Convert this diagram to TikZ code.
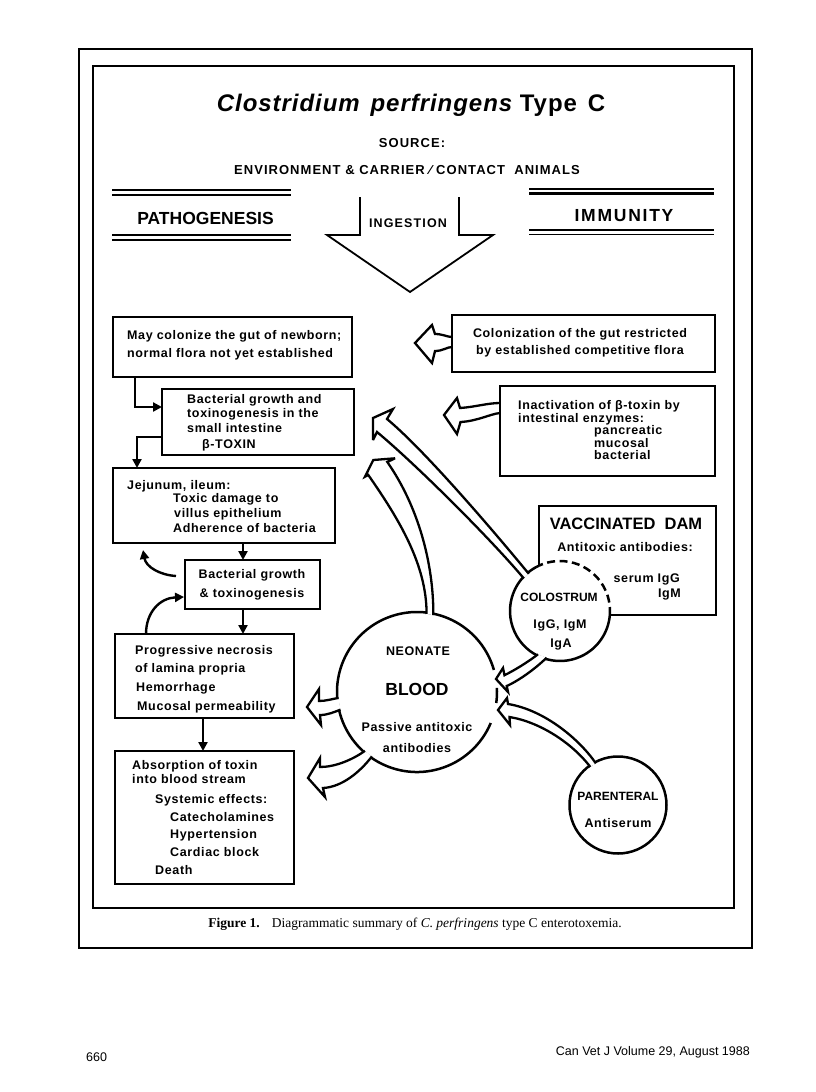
\documentclass[tikz,border=0pt]{standalone}
\usepackage{fontspec}
\setmainfont{Liberation Sans}
\newfontfamily\bodyf[LetterSpace=5]{Liberation Sans}
\newfontfamily\titlef[LetterSpace=4]{Liberation Sans}
\newfontfamily\srcf[LetterSpace=8]{Liberation Sans}
\newfontfamily\immf[LetterSpace=10]{Liberation Sans}
\newfontfamily\ingf[LetterSpace=9]{Liberation Sans}
\newfontfamily\plainf{Liberation Sans}
\newfontfamily\capf{Liberation Serif}
\usetikzlibrary{arrows.meta}
\newcommand\bodyfont{\bodyf\bfseries\fontsize{12.5}{15}\selectfont}
\newcommand\bigfont{\plainf\bfseries\fontsize{17.5}{20}\selectfont}
\newcommand\circfont{\plainf\bfseries\fontsize{12}{14}\selectfont}
\begin{document}
\begin{tikzpicture}[x=1pt,y=-1pt,
  bx/.style={draw, line width=2.5pt, inner sep=0pt, outer sep=0pt, anchor=north west},
  lt/.style={inner sep=0pt, anchor=base west, font=\bodyfont},
  ct/.style={inner sep=0pt, anchor=base, font=\bodyfont},
  conn/.style={line width=2.4pt, -{Triangle[length=9pt,width=9pt]}},
  hollow/.style={line width=2.3pt, fill=white, line join=miter, miter limit=4},
  rim/.style={line width=2.5pt}]
\useasboundingbox (0,0) rectangle (816,1092);
\fill[white] (0,0) rectangle (816,1092);

% frames
\draw[line width=1.3pt] (79,49) rectangle (752,948);
\draw[line width=1.6pt] (93,66) rectangle (734,908);

% title and source
\node[inner sep=0pt, anchor=base] (title) at (411,111)
  {\titlef\bfseries\fontsize{24}{28}\selectfont\itshape Clostridium\hspace{0.45em}perfringens\upshape\ Type\hspace{0.45em}C};
\node[inner sep=0pt, anchor=base] (source) at (412,147.7) {\srcf\bfseries\fontsize{13}{15}\selectfont SOURCE:};
\node[inner sep=0pt, anchor=base] (env) at (407,174.7)
  {\srcf\bfseries\fontsize{13}{15}\selectfont ENVIRONMENT \& CARRIER ⁄ CONTACT\ \ ANIMALS};

% header bars
\draw[line width=1.3pt] (112,190) -- (291,190);
\draw[line width=2.6pt] (112,195) -- (291,195);
\draw[line width=2.6pt] (112,235) -- (291,235);
\draw[line width=1.3pt] (112,240) -- (291,240);
\draw[line width=1.3pt] (529,189) -- (714,189);
\draw[line width=2.6pt] (529,193.5) -- (714,193.5);
\draw[line width=2.6pt] (529,230) -- (714,230);
\draw[line width=1.3pt] (529,234.5) -- (714,234.5);
\node[inner sep=0pt, anchor=base] (path) at (205.5,224.3) {\bigfont PATHOGENESIS};
\node[inner sep=0pt, anchor=base] (imm) at (624,221.3) {\immf\bfseries\fontsize{17.5}{20}\selectfont IMMUNITY};

% ingestion arrow
\draw[line width=1.8pt, line join=miter] (360,197) -- (360,235) -- (327,235) -- (410,292) -- (493,235) -- (459,235) -- (459,197);
\node[inner sep=0pt, anchor=base] (ing) at (408,227.5) {\ingf\bfseries\fontsize{12.5}{15}\selectfont INGESTION};

% left boxes
\node[bx, minimum width=239pt, minimum height=60pt] (A) at (113,317) {};
\node[bx, minimum width=192pt, minimum height=66pt] (B) at (162,389) {};
\node[bx, minimum width=222pt, minimum height=75pt] (C) at (113,468) {};
\node[bx, minimum width=135pt, minimum height=49pt] (D) at (185,560) {};
\node[bx, minimum width=179pt, minimum height=84pt] (E) at (115,634) {};
\node[bx, minimum width=179pt, minimum height=133pt] (F) at (115,751) {};
\node[bx, minimum width=177pt, minimum height=109pt] (V) at (539,506) {};

% connectors on the left
\draw[conn] ([xshift=22pt]A.south west) |- ([yshift=15pt]B.west);
\draw[conn] ([yshift=-15pt]B.west) -| ([xshift=24pt]C.north west);
\draw[conn] ([xshift=130pt]C.south west) -- ([xshift=58pt]D.north west);
\draw[conn] ([xshift=58pt]D.south west) -- ([xshift=128pt]E.north west);
\draw[conn] ([xshift=88pt]E.south west) -- ([xshift=88pt]F.north west);
\coordinate (dl1) at ([xshift=-9pt, yshift=-16pt]D.north west);
\coordinate (cl1) at (143,550);
\draw[conn] (dl1) .. controls (160,575) and (146,567) .. (cl1);
\coordinate (el1) at ([xshift=31pt]E.north west);
\coordinate (dl2) at ([xshift=-1pt, yshift=-37pt]D.north west);
\draw[conn] (el1) .. controls (146,612) and (160,598) .. (dl2);

% circles
\node[circle, fill=white, minimum size=160pt, inner sep=0pt, outer sep=0pt] (neo) at (417,692) {};
\draw[rim] ([shift={(16:80pt)}]neo.center) arc[start angle=16, end angle=337.2, radius=80pt];
\draw[rim] ([shift={(-7.9:80pt)}]neo.center) arc[start angle=-7.9, end angle=2.9, radius=80pt];
\node[circle, fill=white, minimum size=100pt, inner sep=0pt, outer sep=0pt] (colo) at (560,611) {};
\draw[rim] ([shift={(114.8:50pt)}]colo.center) arc[start angle=114.8, end angle=355.4, radius=50pt];
\draw[rim, dash pattern=on 8pt off 4.5pt] ([shift={(-4.6:50pt)}]colo.center) arc[start angle=-4.6, end angle=114.8, radius=50pt];
\node[circle, draw, rim, fill=white, minimum size=97pt, inner sep=0pt, outer sep=0pt] (par) at (618,805) {};

% hollow arrows
\coordinate (uT1) at ([shift={(130:48.6pt)}]colo.center);
\coordinate (uT2) at ([shift={(138:48.6pt)}]colo.center);
\filldraw[hollow] (uT1) .. controls (496,534) and (425.5,451) .. (387,419) -- (393,409) -- (373,418) -- (373,440) -- (377,432) .. controls (415.5,464) and (490.8,539) .. (uT2);
\coordinate (lT1) at ([shift={(83:78.6pt)}]neo.center);
\coordinate (lT2) at ([shift={(78:78.6pt)}]neo.center);
\filldraw[hollow] (lT2) .. controls (433.6,563.7) and (418.4,506.6) .. (387.3,462) -- (395,458.3) -- (373.3,460) -- (365,476.7) -- (368.3,475) .. controls (399.3,519.5) and (426.7,565) .. (lT1);
\coordinate (eT1) at ([shift={(184.3:78.6pt)}]neo.center);
\coordinate (eT2) at ([shift={(193:78.6pt)}]neo.center);
\filldraw[hollow] (eT1) .. controls (332,699) and (326,701) .. (319,701) -- (319,689) -- (307,707) -- (321,725) -- (320,715) .. controls (328,715) and (334,712) .. (eT2);
\coordinate (fT1) at ([shift={(228.5:78.6pt)}]neo.center);
\coordinate (fT2) at ([shift={(235:78.6pt)}]neo.center);
\filldraw[hollow] (fT1) .. controls (352,760) and (335,767) .. (320,767) -- (320,758) -- (308,778) -- (325,797) -- (323,788) .. controls (342,787) and (360,772) .. (fT2);
\coordinate (cT1) at ([shift={(243:48.6pt)}]colo.center);
\coordinate (cT2) at ([shift={(254:48.6pt)}]colo.center);
\filldraw[hollow] (cT1) .. controls (528,662) and (515,670) .. (504.5,675.2) -- (503,668) -- (496,679) -- (508,692) -- (506.75,686) .. controls (520,680) and (536,668) .. (cT2);
\coordinate (pT1) at ([shift={(118:47.1pt)}]par.center);
\coordinate (pT2) at ([shift={(126:47.1pt)}]par.center);
\filldraw[hollow] (pT1) .. controls (580,740) and (545,710) .. (508,704) -- (507,698) -- (498,710) -- (510,725) -- (509.5,717) .. controls (540,722) and (572,743) .. (pT2);

% right boxes (drawn after their arrows)
\coordinate (gT1) at (452,337);
\coordinate (gT2) at (452,347);
\filldraw[hollow] (gT1) .. controls (447,337) and (443,334) .. (435,334) -- (432,325) -- (415,343) -- (432,363) -- (435,351) .. controls (443,351) and (447,347) .. (gT2);
\coordinate (hT1) at (500,403);
\coordinate (hT2) at (500,413);
\filldraw[hollow] (hT1) .. controls (488,403) and (475,407) .. (460,408) -- (457,398) -- (444,415) -- (457,434) -- (460.5,422) .. controls (478,421) and (490,414) .. (hT2);
\node[bx, minimum width=263pt, minimum height=57pt] (G) at (452,315) {};
\node[bx, minimum width=215pt, minimum height=90pt] (H) at (500,386) {};

% texts: box A
\node[lt] (a1) at (127,339.5) {May colonize the gut of newborn;};
\node[lt] (a2) at (127,357.5) {normal flora not yet established};
% box B
\node[lt] (b1) at (187,403.5) {Bacterial growth and};
\node[lt] (b2) at (187,417.5) {toxinogenesis in the};
\node[lt] (b3) at (187,432.5) {small intestine};
\node[lt] (b4) at (202,448.5) {β-TOXIN};
% box C
\node[lt] (c1) at (127,489.5) {Jejunum, ileum:};
\node[lt] (c2) at (173,502.8) {Toxic damage to};
\node[lt] (c3) at (174,517.2) {villus epithelium};
\node[lt] (c4) at (173,532.2) {Adherence of bacteria};
% box D
\node[ct] (d1) at (252,578.5) {Bacterial growth};
\node[ct] (d2) at (252,597.5) {\& toxinogenesis};
% box E
\node[lt] (e1) at (135,654.5) {Progressive necrosis};
\node[lt] (e2) at (135,672.5) {of lamina propria};
\node[lt] (e3) at (136,691.5) {Hemorrhage};
\node[lt] (e4) at (137,710.5) {Mucosal permeability};
% box F
\node[lt] (f1) at (132,769.5) {Absorption of toxin};
\node[lt] (f2) at (132,783.5) {into blood stream};
\node[lt] (f3) at (155,803.5) {Systemic effects:};
\node[lt] (f4) at (170,821.5) {Catecholamines};
\node[lt] (f5) at (170,838.5) {Hypertension};
\node[lt] (f6) at (170,856.5) {Cardiac block};
\node[lt] (f7) at (155,874.5) {Death};
% box G
\node[ct] (g1) at (580,337.5) {Colonization of the gut restricted};
\node[ct] (g2) at (580,354.5) {by established competitive flora};
% box H
\node[lt] (h1) at (518,409.5) {Inactivation of β-toxin by};
\node[lt] (h2) at (518,422) {intestinal enzymes:};
\node[lt] (h3) at (594,434.5) {pancreatic};
\node[lt] (h4) at (594,447) {mucosal};
\node[lt] (h5) at (594,459.5) {bacterial};
% vaccinated dam
\node[inner sep=0pt, anchor=base] (v1) at (626,529) {\plainf\bfseries\fontsize{16.5}{19}\selectfont VACCINATED\ \ DAM};
\node[ct] (v2) at (625,551.5) {Antitoxic antibodies:};
\node[inner sep=0pt, anchor=base east, font=\bodyfont] (v3) at (680,582.5) {serum IgG};
\node[inner sep=0pt, anchor=base east, font=\bodyfont] (v4) at (681,597.5) {IgM};
% colostrum
\node[inner sep=0pt, anchor=base, font=\circfont] (k1) at (559,601.3) {COLOSTRUM};
\node[ct] (k2) at (560,628.5) {IgG,\ IgM};
\node[ct] (k3) at (561,647.5) {IgA};
% neonate
\node[ct] (n1) at (418,655.5) {NEONATE};
\node[inner sep=0pt, anchor=base] (n2) at (417,695.3) {\bigfont BLOOD};
\node[ct] (n3) at (417,731.5) {Passive antitoxic};
\node[ct] (n4) at (417,752.5) {antibodies};
% parenteral
\node[inner sep=0pt, anchor=base, font=\circfont] (p1) at (618,800.3) {PARENTERAL};
\node[ct] (p2) at (618,827.5) {Antiserum};

% caption and footer
\node[inner sep=0pt, anchor=base] (cap) at (415,927.5)
  {\capf\fontsize{13.5}{16}\selectfont\textbf{Figure 1.}\hspace{0.9em}Diagrammatic summary of \textit{C. perfringens} type C enterotoxemia.};
\node[inner sep=0pt, anchor=base west] (pg) at (86,1061) {\plainf\fontsize{12.5}{15}\selectfont 660};
\node[inner sep=0pt, anchor=base east] (jr) at (750,1055) {\plainf\fontsize{12.5}{15}\selectfont Can Vet J Volume 29, August 1988};
\end{tikzpicture}
\end{document}
